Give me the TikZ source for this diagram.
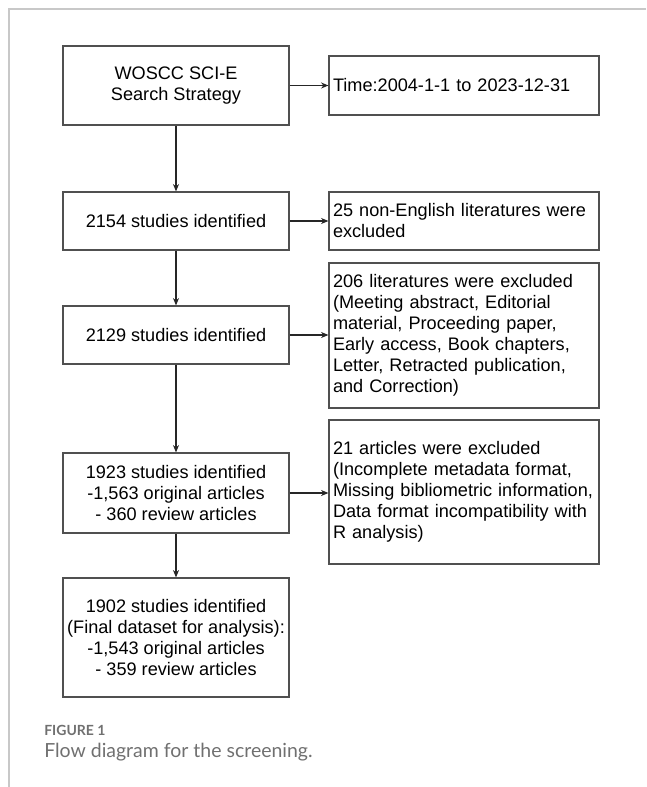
\documentclass[tikz,border=0pt]{standalone}
\usepackage{fontspec}
\setmainfont{Liberation Sans}
\newfontfamily\capfont{Lato}
\usepackage{tikz}
\usepackage{xcolor}
\usetikzlibrary{positioning, arrows.meta}

\definecolor{boxline}{HTML}{505050}
\definecolor{frameline}{HTML}{C8C8C8}
\definecolor{captext}{HTML}{707070}

\begin{document}
\begin{tikzpicture}[
    x=0.75pt, y=-0.75pt,
    font=\fontsize{13.6}{15.75}\selectfont,
    main_box/.style={rectangle, draw=boxline, line width=0.9pt, minimum width=226*0.75pt, align=center, inner sep=0pt},
    excl_box/.style={rectangle, draw=boxline, line width=0.9pt, minimum width=270*0.75pt, text width=262*0.75pt, align=left, inner sep=3pt},
    flow_arrow/.style={-{Stealth[length=5.5pt, width=4.5pt]}, line width=0.8pt, black!85},
    frame_line/.style={draw=frameline, line width=1.4pt},
    caption_text/.style={anchor=base west, inner sep=0pt, color=captext}
]
\useasboundingbox (0,0) rectangle (646,787);

% Frame
\draw[frame_line] (646,9) -- (9,9) -- (9,787);

% Left column: identified studies
\node[main_box, minimum height=79*0.75pt] (search) at (176,85.5) {WOSCC SCI-E\\ Search Strategy};
\node[main_box, minimum height=58*0.75pt] (s2154) at (176,221) {2154 studies identified};
\node[main_box, minimum height=58*0.75pt] (s2129) at (176,335) {2129 studies identified};
\node[main_box, minimum height=80*0.75pt] (s1923) at (176,493) {1923 studies identified\\ -1,563 original articles\\ - 360 review articles};
\node[main_box, minimum height=119*0.75pt] (s1902) at (176,637.5) {1902 studies identified\\ (Final dataset for analysis):\\ -1,543 original articles\\ - 359 review articles};

% Right column: time span and exclusions
\node[excl_box, minimum height=59*0.75pt] (time) at (464,85.5) {Time:2004-1-1 to 2023-12-31};
\node[excl_box, minimum height=58*0.75pt] (excl25) at (464,221) {25 non-English literatures were\\ excluded};
\node[excl_box, minimum height=145*0.75pt] (excl206) at (464,335.5) {206 literatures were excluded\\ (Meeting abstract, Editorial\\ material, Proceeding paper,\\ Early access, Book chapters,\\ Letter, Retracted publication,\\ and Correction)};
\node[excl_box, minimum height=144*0.75pt] (excl21) at (464,492) {21 articles were excluded\\ (Incomplete metadata format,\\ Missing bibliometric information,\\ Data format incompatibility with\\ R analysis)};

% Arrows
\draw[flow_arrow] (search) -- (s2154);
\draw[flow_arrow] (s2154) -- (s2129);
\draw[flow_arrow] (s2129) -- (s1923);
\draw[flow_arrow] (s1923) -- (s1902);
\draw[flow_arrow] (search.east) -- (search.east -| time.west);
\draw[flow_arrow] (s2154.east) -- (s2154.east -| excl25.west);
\draw[flow_arrow] (s2129.east) -- (s2129.east -| excl206.west);
\draw[flow_arrow] (s1923.east) -- (s1923.east -| excl21.west);

% Caption
\node[caption_text, font=\capfont\bfseries\fontsize{10.5}{12}\selectfont] (figlabel) at (44,735) {FIGURE 1};
\node[caption_text, font=\capfont\fontsize{14.6}{17}\selectfont] (figcaption) at (44,757) {Flow diagram for the screening.};

\end{tikzpicture}
\end{document}
